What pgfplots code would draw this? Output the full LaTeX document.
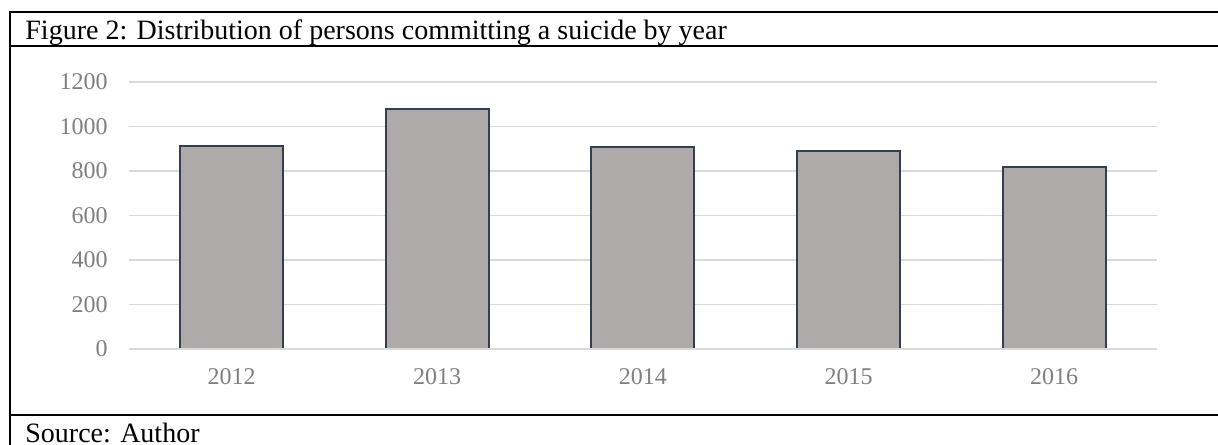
\documentclass[border=0pt]{standalone}
\usepackage{fontspec}
\setmainfont{Liberation Serif}
\usepackage{pgfplots}
\pgfplotsset{compat=1.18}
\definecolor{barfill}{HTML}{AEAAAA}
\definecolor{baredge}{HTML}{333F50}
\definecolor{gridc}{HTML}{D9D9D9}
\definecolor{tickc}{HTML}{7F7F7F}
\begin{document}
\begin{tikzpicture}
\path[use as bounding box] (0,0) rectangle (609pt,-222pt);
\begin{axis}[
 scale only axis, width=514.15pt, height=133.5pt,
 at={(64.35pt,-174.5pt)}, anchor=south west,
 xmin=-0.5, xmax=4.5, ymin=0, ymax=1200,
 xtick={0,1,2,3,4}, xticklabels={2012,2013,2014,2015,2016},
 ytick={0,200,...,1200},
 ymajorgrids, grid style={gridc, line width=0.75pt},
 axis line style={draw=none},
 major tick length=0pt,
 tick label style={font=\fontsize{12}{14}\selectfont, text=tickc, inner sep=0pt},
 yticklabel style={anchor=east, xshift=-10.3pt},
 xticklabel style={anchor=north, yshift=-9.5pt},
 /pgf/number format/assume math mode=true,
 /pgf/number format/1000 sep={},
 ybar, bar width=51.5pt,
 clip=false,
]
\addplot[fill=barfill, draw=baredge, line width=0.9pt] coordinates {(0,912) (1,1077) (2,909) (3,890) (4,819)};
\draw[gridc, line width=0.9pt] (axis cs:-0.5,0) -- (axis cs:4.5,0);
\end{axis}
\draw[line width=1pt] (5pt,-6pt) -- (615pt,-6pt);
\draw[line width=1pt] (5pt,-23pt) -- (615pt,-23pt);
\draw[line width=1pt] (5pt,-207.5pt) -- (615pt,-207.5pt);
\draw[line width=1pt] (5pt,-5.5pt) -- (5pt,-230pt);
\node[anchor=base west, inner sep=0pt, font=\fontsize{14}{17}\selectfont] at (12.5pt,-20pt) {Figure 2: Distribution of persons committing a suicide by year};
\node[anchor=base west, inner sep=0pt, font=\fontsize{14}{17}\selectfont] at (12.5pt,-221.3pt) {Source: Author};
\end{tikzpicture}
\end{document}
